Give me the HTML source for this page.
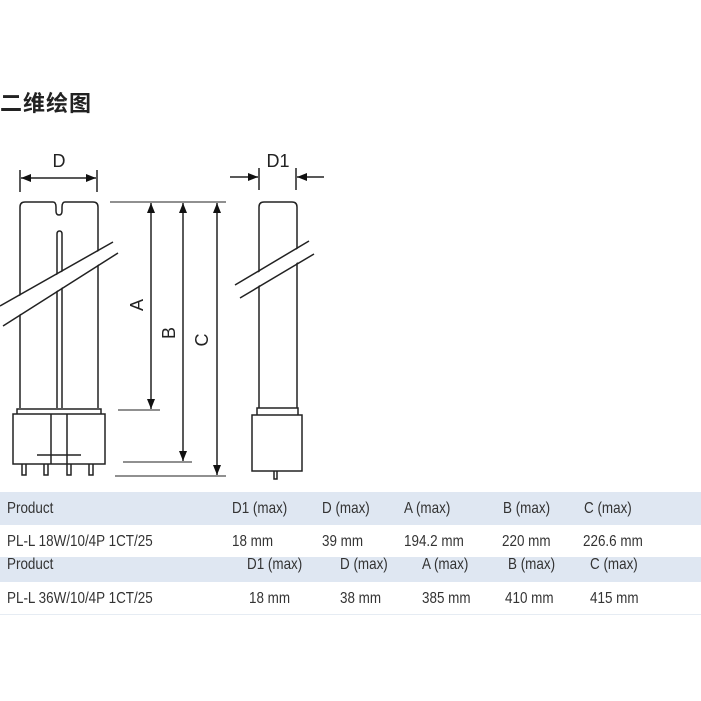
<!DOCTYPE html>
<html><head><meta charset="utf-8"><style>
body{margin:0;width:701px;height:701px;background:#fff;position:relative;overflow:hidden;font-family:"Liberation Sans","Noto Sans CJK SC",sans-serif;color:#333}
.t{position:absolute;font-size:16px;white-space:nowrap;line-height:18px;transform:scaleX(0.84);transform-origin:0 0}
.band{position:absolute;left:0;width:701px;background:#dfe7f2}
</style></head><body>
<div style="position:absolute;left:0;top:86px;font-size:22px;font-weight:bold;color:#222;font-family:'Noto Sans CJK SC',sans-serif;letter-spacing:1px">二维绘图</div>
<svg width="701" height="490" style="position:absolute;left:0;top:0" font-family="Liberation Sans, sans-serif">
<defs><marker id="a" markerWidth="10" markerHeight="8" refX="10" refY="4" orient="auto" markerUnits="userSpaceOnUse"><path d="M0,0L10,4L0,8z" fill="#111"/></marker></defs>
<g stroke="#222" stroke-width="1.5" fill="none">
<!-- left lamp -->
<path d="M20,408V207q0-5 5-5h28q3 0 3 5v4q0 4 3 4t3-4v-4q0-5 3-5h28q5 0 5 5v201"/>
<path d="M57,408V234q0-3 2.5-3t2.5 3v174"/>
<rect x="13" y="414" width="92" height="50"/>
<path d="M17,414v-5h84v5"/>
<path d="M51,414v50M67,414v50M37,455h44"/>
<path d="M22,464v11h4v-11M44,464v11h4v-11M67,464v11h4v-11M89,464v11h4v-11"/>
<polygon points="0,307 113,243 118,252 3,325" fill="#fff" stroke="none"/>
<path d="M0,306L113,242M3,326L118,253" stroke-width="1.5"/>
<!-- D dim -->
<path d="M20,170v22M97,170v22"/>
<path d="M59,178H21" marker-end="url(#a)"/><path d="M59,178H96" marker-end="url(#a)"/>
<!-- extension lines -->
<path d="M110,202H226M118,410H160M123,462H192M115,476H226" stroke-width="1"/>
<path d="M151,305V203" marker-end="url(#a)"/><path d="M151,305V409" marker-end="url(#a)"/>
<path d="M183,330V203" marker-end="url(#a)"/><path d="M183,330V461" marker-end="url(#a)"/>
<path d="M217,340V203" marker-end="url(#a)"/><path d="M217,340V475" marker-end="url(#a)"/>
<!-- right lamp -->
<path d="M259,408V207q0-5 5-5h28q5 0 5 5v201"/>
<path d="M257,415v-7h41v7"/>
<rect x="252" y="415" width="50" height="56"/>
<path d="M274,471v8h3v-8"/>
<polygon points="236,286 309,242 313,253 240,297" fill="#fff" stroke="none"/>
<path d="M235,285L309,241M240,298L314,254"/>
<path d="M259,168v22M296,168v22"/>
<path d="M230,177H258" marker-end="url(#a)"/><path d="M324,177H297" marker-end="url(#a)"/>
</g>
<g fill="#222" font-size="18" text-anchor="middle">
<text x="59" y="167">D</text>
<text x="278" y="167">D1</text>
<text transform="translate(143,305) rotate(-90)">A</text>
<text transform="translate(175,333) rotate(-90)">B</text>
<text transform="translate(208,340) rotate(-90)">C</text>
</g>
</svg>
<div class="band" style="top:492px;height:33px"></div>
<div class="band" style="top:557px;height:25px"></div>
<div style="position:absolute;left:0;top:614px;width:701px;height:1px;background:#e6ecf3"></div>
<div class="t" style="left:7px;top:500px">Product</div>
<div class="t" style="left:232px;top:500px">D1 (max)</div>
<div class="t" style="left:322px;top:500px">D (max)</div>
<div class="t" style="left:404px;top:500px">A (max)</div>
<div class="t" style="left:503px;top:500px">B (max)</div>
<div class="t" style="left:584px;top:500px">C (max)</div>
<div class="t" style="left:7px;top:533px">PL-L 18W/10/4P 1CT/25</div>
<div class="t" style="left:232px;top:533px">18 mm</div>
<div class="t" style="left:322px;top:533px">39 mm</div>
<div class="t" style="left:404px;top:533px">194.2 mm</div>
<div class="t" style="left:502px;top:533px">220 mm</div>
<div class="t" style="left:583px;top:533px">226.6 mm</div>
<div class="t" style="left:7px;top:556px">Product</div>
<div class="t" style="left:247px;top:556px">D1 (max)</div>
<div class="t" style="left:340px;top:556px">D (max)</div>
<div class="t" style="left:422px;top:556px">A (max)</div>
<div class="t" style="left:508px;top:556px">B (max)</div>
<div class="t" style="left:590px;top:556px">C (max)</div>
<div class="t" style="left:7px;top:590px">PL-L 36W/10/4P 1CT/25</div>
<div class="t" style="left:249px;top:590px">18 mm</div>
<div class="t" style="left:340px;top:590px">38 mm</div>
<div class="t" style="left:422px;top:590px">385 mm</div>
<div class="t" style="left:505px;top:590px">410 mm</div>
<div class="t" style="left:590px;top:590px">415 mm</div>
</body></html>
